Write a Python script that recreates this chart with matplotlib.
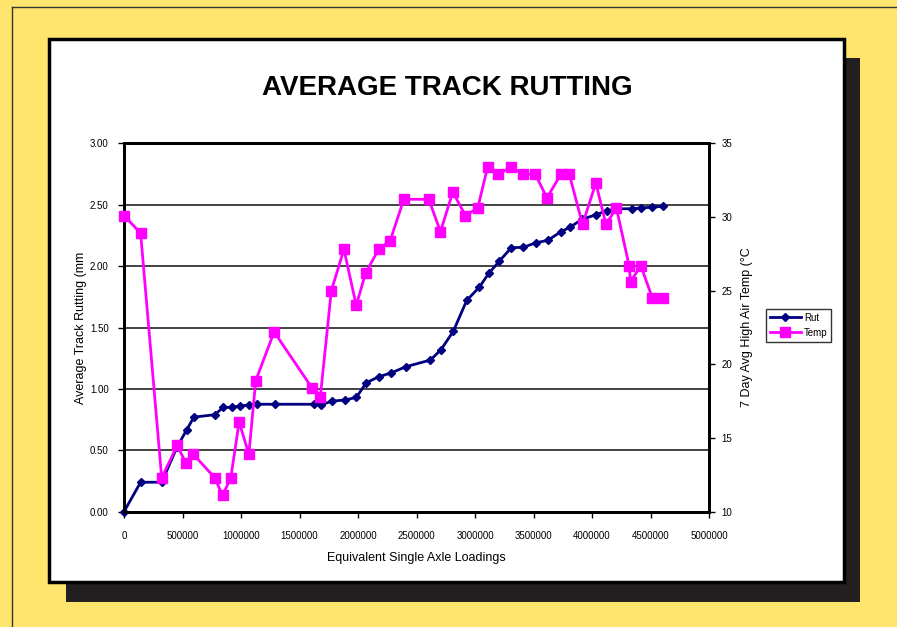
import numpy as np
import matplotlib
matplotlib.use('Agg')
import matplotlib.pyplot as plt
from matplotlib.patches import Rectangle
from matplotlib.lines import Line2D

plt.rcParams['font.family'] = ['Liberation Sans', 'DejaVu Sans']

# Rut data (navy diamonds), left axis
rut_esal = [0, 142000, 322000, 455000, 535000, 597000, 776000, 848000, 919000,
            990000, 1067000, 1138000, 1294000, 1620000, 1683000, 1777000, 1888000,
            1985000, 2071000, 2179000, 2284000, 2406000, 2619000, 2710000, 2815000,
            2929000, 3038000, 3117000, 3208000, 3310000, 3413000, 3521000, 3623000,
            3734000, 3811000, 3913000, 4038000, 4124000, 4209000, 4340000, 4417000,
            4516000, 4608000]
rut_mm = [0.00, 0.24, 0.24, 0.53, 0.665, 0.77, 0.79, 0.85, 0.85,
          0.86, 0.87, 0.875, 0.875, 0.875, 0.87, 0.90, 0.91,
          0.93, 1.05, 1.10, 1.13, 1.18, 1.235, 1.32, 1.47,
          1.72, 1.83, 1.94, 2.04, 2.15, 2.153, 2.19, 2.21,
          2.28, 2.316, 2.38, 2.42, 2.45, 2.467, 2.467, 2.473,
          2.48, 2.487]

# Temp data (magenta squares), right axis
temp_esal = [0, 142000, 322000, 455000, 529000, 592000, 776000, 842000, 913000,
             984000, 1067000, 1126000, 1283000, 1607000, 1678000, 1772000, 1880000,
             1985000, 2065000, 2176000, 2275000, 2392000, 2605000, 2705000, 2810000,
             2918000, 3023000, 3108000, 3200000, 3308000, 3413000, 3515000, 3615000,
             3734000, 3806000, 3919000, 4033000, 4119000, 4209000, 4317000, 4330000,
             4417000, 4516000, 4608000]
temp_c = [30.1, 28.9, 12.3, 14.5, 13.3, 13.9, 12.3, 11.1, 12.3,
          16.1, 13.9, 18.9, 22.2, 18.4, 17.8, 25.0, 27.8,
          24.0, 26.2, 27.8, 28.4, 31.2, 31.2, 29.0, 31.7,
          30.1, 30.6, 33.4, 32.9, 33.4, 32.9, 32.9, 31.3,
          32.9, 32.9, 29.5, 32.3, 29.5, 30.6, 26.7, 25.6,
          26.7, 24.5, 24.5]

x_ticks = np.arange(0, 5000001, 500000)
rut_ticks = np.arange(0, 3.01, 0.5)
temp_ticks = np.arange(10, 36, 5)

W, H = 897, 627
fig = plt.figure(figsize=(W / 100, H / 100), dpi=100)
fig.patch.set_facecolor('#FFE56E')


def px_rect(x0, y0, x1, y1, **kw):
    return Rectangle((x0 / W, 1 - y1 / H), (x1 - x0) / W, (y1 - y0) / H,
                     transform=fig.transFigure, zorder=-5, **kw)


# outer thin border on top/left
fig.add_artist(Line2D([12 / W, 1], [1 - 7 / H, 1 - 7 / H], transform=fig.transFigure,
                      color='#333333', lw=1, zorder=-5))
fig.add_artist(Line2D([12 / W, 12 / W], [0, 1 - 7 / H], transform=fig.transFigure,
                      color='#333333', lw=1, zorder=-5))
# shadow + white panel
fig.add_artist(px_rect(66, 58, 860, 602, facecolor='#231F20', edgecolor='none'))
fig.add_artist(px_rect(49, 39, 844, 582, facecolor='white', edgecolor='black', lw=2.5))

fig.text(447 / W, 1 - 88 / H, 'AVERAGE TRACK RUTTING', ha='center', va='center',
         fontsize=20, fontweight='bold', color='black')

ax = fig.add_axes([124 / W, 1 - 511.7 / H, (709 - 124) / W, (511.7 - 143.3) / H])
ax.set_facecolor('white')
ax.set_xlim(0, 5000000)
ax.set_ylim(0, 3.0)
ax.set_xticks(x_ticks)
ax.set_xticklabels([str(int(v)) for v in x_ticks])
ax.set_yticks(rut_ticks)
ax.set_yticklabels(['%.2f' % v for v in rut_ticks])
ax.yaxis.grid(True, color='#222222', lw=1.2)
ax.set_axisbelow(True)
for s in ax.spines.values():
    s.set_linewidth(2)
    s.set_color('black')
ax.tick_params(axis='both', direction='out', length=4, width=1, labelsize=7, pad=7)
ax.tick_params(axis='x', pad=10)

ln_rut, = ax.plot(rut_esal, rut_mm, color='#000080', lw=2, marker='D', markersize=4.5,
                  label='Rut', zorder=3, clip_on=False)
ax.set_ylabel('Average Track Rutting (mm', fontsize=9, labelpad=2)
ax.set_xlabel('Equivalent Single Axle Loadings', fontsize=9, labelpad=8)

ax2 = ax.twinx()
ax2.set_ylim(10, 35)
ax2.set_yticks(temp_ticks)
ax2.tick_params(axis='y', direction='out', length=4, width=1, labelsize=7, pad=5)
for s in ax2.spines.values():
    s.set_linewidth(2)
    s.set_color('black')
ln_temp, = ax2.plot(temp_esal, temp_c, color='#FF00FF', lw=2, marker='s', markersize=7,
                    label='Temp', zorder=3, clip_on=False)
ax2.set_ylabel('7 Day Avg High Air Temp (\u00b0C', fontsize=9, labelpad=6)

leg = fig.legend(handles=[ln_rut, ln_temp], loc='upper left',
                 bbox_to_anchor=(766 / W, 1 - 309 / H), fontsize=7, frameon=True,
                 fancybox=False, edgecolor='black', handlelength=3.2, borderpad=0.4,
                 labelspacing=0.5, handletextpad=0.3, borderaxespad=0)
leg.get_frame().set_linewidth(1)

fig.savefig('out.png', dpi=100, facecolor=fig.get_facecolor())
